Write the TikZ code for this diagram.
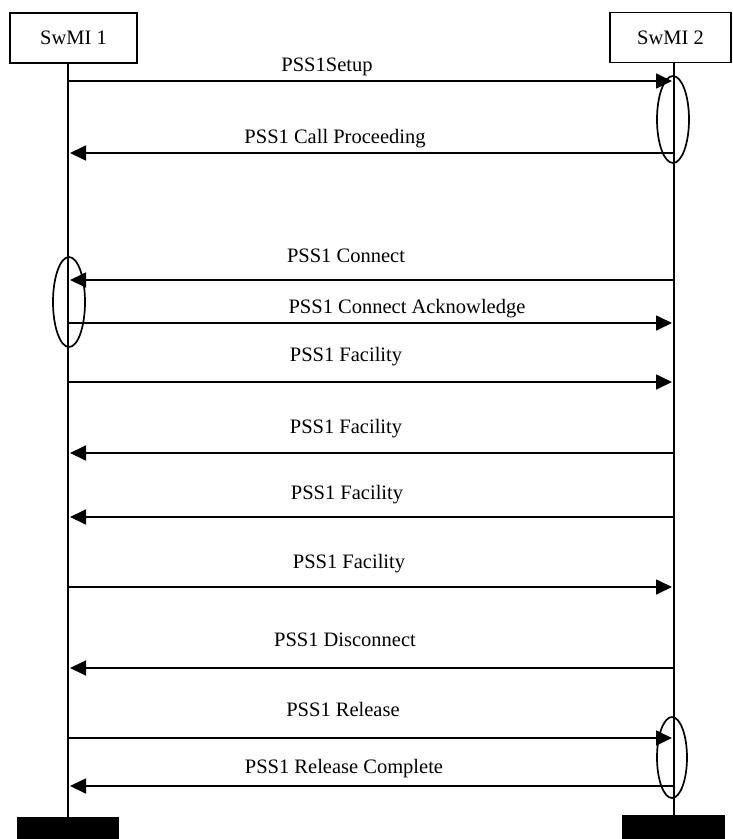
\documentclass[tikz,border=0pt]{standalone}
\usepackage{fontspec}
\setmainfont{Liberation Serif}
\usetikzlibrary{arrows.meta,shapes.geometric}
\tikzset{
  entity/.style={draw, line width=1.5pt, minimum height=50pt, inner sep=0pt, font=\fontsize{20.5}{24}\selectfont},
  life/.style={line width=1.7pt},
  msg/.style={line width=1.7pt, -{Triangle[length=16pt,width=15pt]}, shorten >=2pt},
  lbl/.style={anchor=base, inner sep=0pt, font=\fontsize{20.5}{24}\selectfont},
  oval/.style={draw, ellipse, line width=1.7pt, inner sep=0pt},
  bar/.style={fill=black, inner sep=0pt}
}
\begin{document}
\begin{tikzpicture}[x=1pt,y=-1pt]
\useasboundingbox (0,0) rectangle (732,839);
% entities
\node[entity, minimum width=127pt] (e1) at (73.5,38) {SwMI 1};
\node[entity, minimum width=121pt] (e2) at (670.5,37.5) {SwMI 2};
% lifeline ends
\coordinate (l1top) at (68,63);
\coordinate (l1bot) at (68,817);
\coordinate (l2top) at (674,62);
\coordinate (l2bot) at (674,815);
\draw[life] (l1top) -- (l1bot);
\draw[life] (l2top) -- (l2bot);
% bars
\node[bar, minimum width=102pt, minimum height=24pt] (bar1) at (68,829) {};
\node[bar, minimum width=103pt, minimum height=26pt] (bar2) at (673.5,828) {};
% ellipses
\node[oval, minimum width=32pt, minimum height=87pt] (o1) at (673,119.5) {};
\node[oval, minimum width=32pt, minimum height=90pt] (o2) at (69,302) {};
\node[oval, minimum width=30pt, minimum height=81pt] (o3) at (672,757.5) {};
% message endpoints
\foreach \n/\y in {1/81,2/153,3/280,4/323,5/382,6/453,7/517,8/587,9/668,10/738,11/786}{
  \coordinate (L\n) at (68,\y);
  \coordinate (R\n) at (674,\y);
}
% messages
\draw[msg] (L1) -- (R1);
\draw[msg] (R2) -- (L2);
\draw[msg] (R3) -- (L3);
\draw[msg] (L4) -- (R4);
\draw[msg] (L5) -- (R5);
\draw[msg] (R6) -- (L6);
\draw[msg] (R7) -- (L7);
\draw[msg] (L8) -- (R8);
\draw[msg] (R9) -- (L9);
\draw[msg] (L10) -- (R10);
\draw[msg] (R11) -- (L11);
% labels
\node[lbl] (t1) at (327,71) {PSS1Setup};
\node[lbl] (t2) at (335,143) {PSS1 Call Proceeding};
\node[lbl] (t3) at (346,262) {PSS1 Connect};
\node[lbl] (t4) at (407,313) {PSS1 Connect Acknowledge};
\node[lbl] (t5) at (346,361) {PSS1 Facility};
\node[lbl] (t6) at (346,433) {PSS1 Facility};
\node[lbl] (t7) at (347,499) {PSS1 Facility};
\node[lbl] (t8) at (349,568) {PSS1 Facility};
\node[lbl] (t9) at (345,646) {PSS1 Disconnect};
\node[lbl] (t10) at (343,716) {PSS1 Release};
\node[lbl] (t11) at (344,773) {PSS1 Release Complete};
\end{tikzpicture}
\end{document}
